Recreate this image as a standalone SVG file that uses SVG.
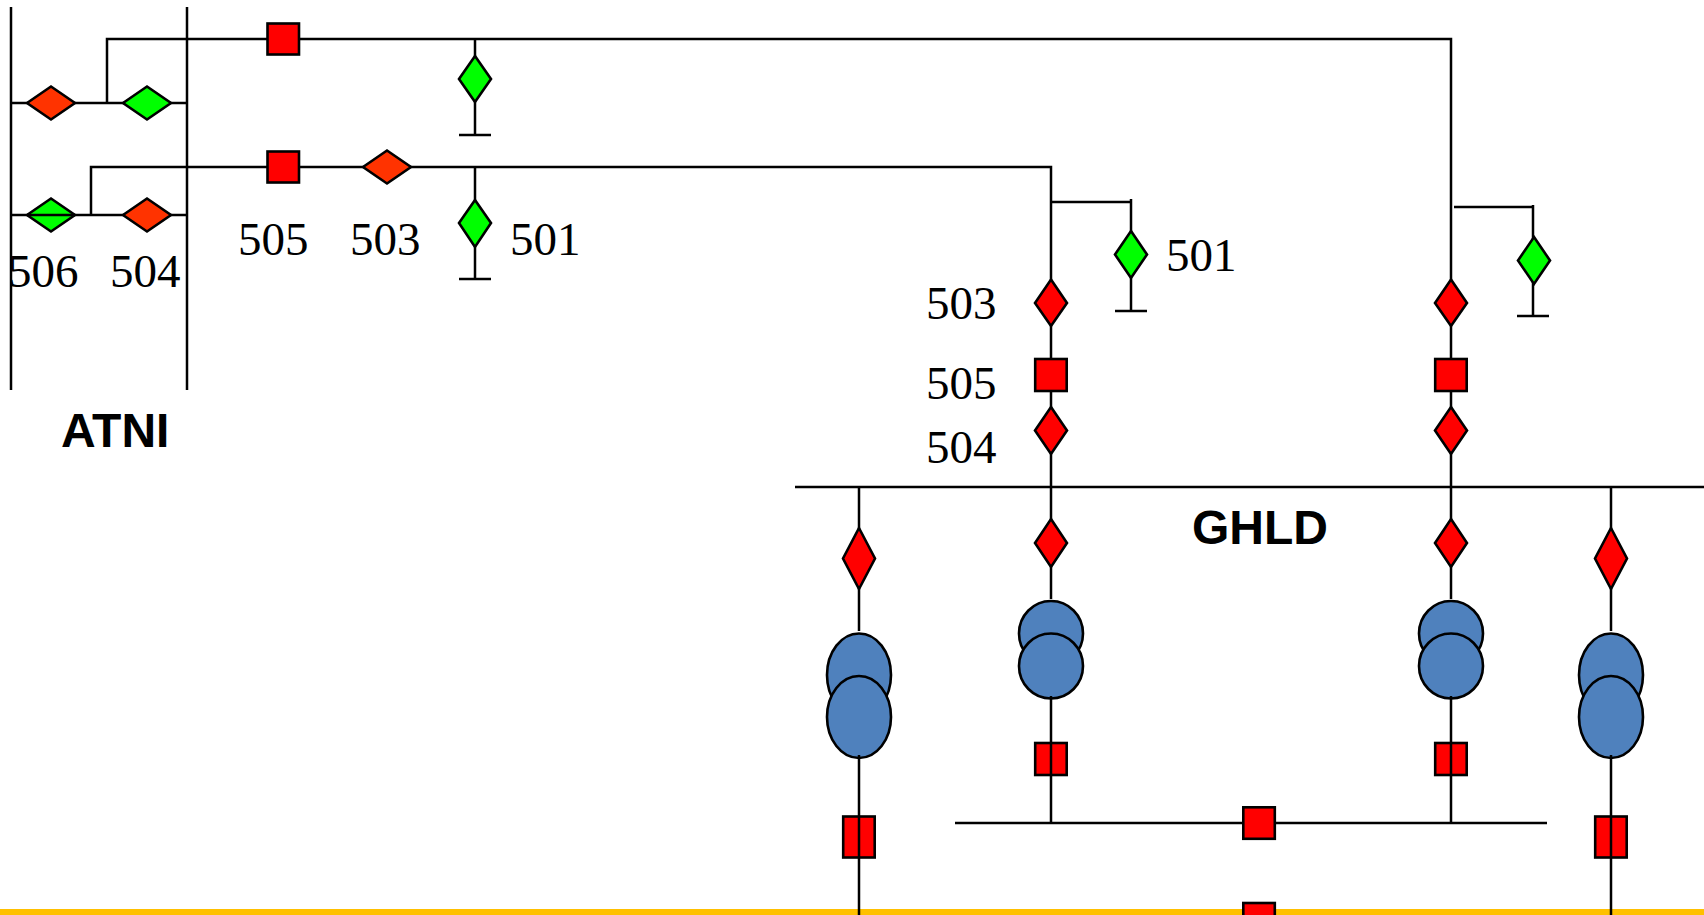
<svg xmlns="http://www.w3.org/2000/svg" width="1704" height="915" viewBox="0 0 1704 915">
<style>
.l{fill:none;stroke:#000;stroke-width:2.500}
.s{stroke:#000;stroke-width:2.600}
.r{fill:#f00}.o{fill:#f30}.g{fill:#0f0}.b{fill:#4f81bd;stroke:#000;stroke-width:2.600}
.n{font-family:"Liberation Serif","Times New Roman",serif;font-size:47px;fill:#000}
.t{font-family:"Liberation Sans",Arial,sans-serif;font-size:48px;font-weight:bold;fill:#000}
</style>
<rect width="1704" height="915" fill="#fff"/>
<rect id="footer-band" x="0" y="909" width="1704" height="6" fill="#ffc000"/>
<g id="connectors" class="l">
<path d="M11 7V390M187 7V390"/>
<path d="M107 103V39H1451V486"/>
<path d="M11 103H187M11 215H187"/>
<path d="M91 215V167H1051V486"/>
<path d="M475 39V135M459 135H491"/>
<path d="M475 167V279M459 279H491"/>
<path d="M1051 202H1131M1131 199V311M1115 311H1147"/>
<path d="M1454 207H1533M1533 205V316M1517 316H1549"/>
<path d="M795 487H1704"/>
<path d="M955 823H1547"/>
<path d="M859 487V631M1611 487V631"/>
<path d="M1051 487V599M1451 487V599"/>
</g>
<g id="sw-atni-1" class="s o"><path d="M27 103L51 86.500L75 103L51 119.500Z"/></g>
<g id="sw-atni-2" class="s g"><path d="M123 103L147 86.500L171 103L147 119.500Z"/></g>
<g id="sw-atni-506" class="s g"><path d="M27 215L51 198.500L75 215L51 231.500Z"/><path d="M27 215H75" fill="none"/></g>
<g id="sw-atni-504" class="s o"><path d="M123 215L147 198.500L171 215L147 231.500Z"/></g>
<g id="cb-top" class="s r"><rect x="267.500" y="23.500" width="31.500" height="31"/></g>
<g id="cb-505" class="s r"><rect x="267.500" y="151.500" width="31.500" height="31"/></g>
<g id="sw-503" class="s o"><path d="M363 167L387 150.500L411 167L387 183.500Z"/></g>
<g id="es-top" class="s g"><path d="M475 56L491 79L475 102L459 79Z"/></g>
<g id="es-501" class="s g"><path d="M475 200L491 223L475 247L459 223Z"/></g>
<g id="es-501-b" class="s g"><path d="M1131 231L1147 254.500L1131 278L1115 254.500Z"/></g>
<g id="es-c" class="s g"><path d="M1534 237L1550 260.500L1534 284L1518 260.500Z"/></g>
<g id="sw-503-b" class="s r"><path d="M1051 279.500L1067 303L1051 326L1035 303Z"/></g>
<g id="cb-505-b" class="s r"><rect x="1035.200" y="359" width="31.500" height="32"/></g>
<g id="sw-504-b" class="s r"><path d="M1051 407L1067 430.500L1051 454L1035 430.500Z"/></g>
<g id="sw-c-1" class="s r"><path d="M1451 279.500L1467 303L1451 326L1435 303Z"/></g>
<g id="cb-c" class="s r"><rect x="1435.200" y="359" width="31.500" height="32"/></g>
<g id="sw-c-2" class="s r"><path d="M1451 407L1467 430.500L1451 454L1435 430.500Z"/></g>
<g id="sw-g1" class="s r"><path d="M859 528L875 558.500L859 589L843 558.500Z"/></g>
<g id="sw-g2" class="s r"><path d="M1051 519L1067 543L1051 567L1035 543Z"/></g>
<g id="sw-g3" class="s r"><path d="M1451 519L1467 543L1451 567L1435 543Z"/></g>
<g id="sw-g4" class="s r"><path d="M1611 528L1627 558.500L1611 589L1595 558.500Z"/></g>
<g id="tr-1"><ellipse class="b" cx="859" cy="675" rx="32" ry="41.500"/><ellipse class="b" cx="859" cy="717" rx="32" ry="41"/></g>
<g id="tr-2"><ellipse class="b" cx="1051" cy="633.500" rx="32" ry="32.500"/><ellipse class="b" cx="1051" cy="666" rx="32" ry="32.500"/></g>
<g id="tr-3"><ellipse class="b" cx="1451" cy="633.500" rx="32" ry="32.500"/><ellipse class="b" cx="1451" cy="666" rx="32" ry="32.500"/></g>
<g id="tr-4"><ellipse class="b" cx="1611" cy="675" rx="32" ry="41.500"/><ellipse class="b" cx="1611" cy="717" rx="32" ry="41"/></g>
<g id="cb-g2" class="s r"><rect x="1035.200" y="743" width="31.500" height="32"/></g>
<g id="cb-g3" class="s r"><rect x="1435.200" y="743" width="31.500" height="32"/></g>
<g id="cb-g1" class="s r"><rect x="843.200" y="816.500" width="31.500" height="41"/></g>
<g id="cb-g4" class="s r"><rect x="1595.200" y="816.500" width="31.500" height="41"/></g>
<g id="cb-tie" class="s r"><rect x="1243.300" y="807.300" width="31.500" height="31.500"/></g>
<g id="cb-bottom" class="s r"><rect x="1243.300" y="903" width="31.500" height="20"/></g>
<g id="connectors-front" class="l">
<path d="M859 755V915M1611 755V915"/>
<path d="M1051 696V823M1451 696V823"/>
</g>
<g id="labels">
<text class="n" x="238" y="255">505</text>
<text class="n" x="350" y="255">503</text>
<text class="n" x="510" y="255">501</text>
<text class="n" x="8" y="287">506</text>
<text class="n" x="110" y="287">504</text>
<text class="n" x="1166" y="271">501</text>
<text class="n" x="926" y="319">503</text>
<text class="n" x="926" y="399">505</text>
<text class="n" x="926" y="463">504</text>
<text class="t" x="61" y="447">ATNI</text>
<text class="t" x="1192" y="544">GHLD</text>
</g>
</svg>
